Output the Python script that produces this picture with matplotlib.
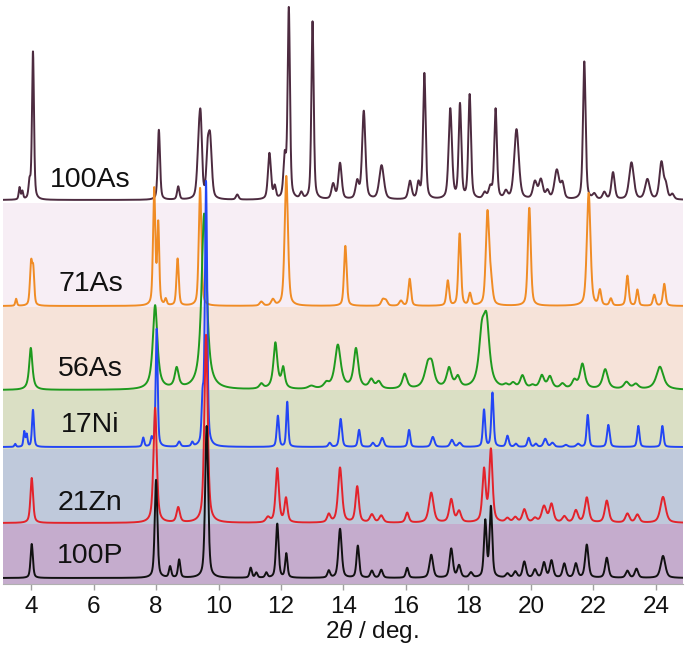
import numpy as np
import matplotlib
matplotlib.use("Agg")
import matplotlib.pyplot as plt

plt.rcParams['font.family'] = ['Liberation Sans', 'DejaVu Sans']
plt.rcParams['mathtext.fontset'] = 'custom'
plt.rcParams['mathtext.rm'] = 'Liberation Sans'
plt.rcParams['mathtext.it'] = 'Liberation Sans:italic'

# ---------------- data (peak lists) ----------------
labels = ["100As", "71As", "56As", "17Ni", "21Zn", "100P"]
line_colors = ["#4d2b40", "#f08c25", "#1e9a1e", "#2346f5", "#e3232b", "#111111"]
band_colors = ["#ffffff", "#f7eef5", "#f6e3d9", "#dadfc4", "#bfc9db", "#c5accd"]

# vertical offsets of each pattern (arbitrary units)
offsets = [384, 278, 194, 137, 61, 6]
# band limits (same units)
band_edges = [584, 381, 277, 194, 135, 60, 0]

as100_pos = [3.63, 3.72, 3.95, 4.06, 8.09, 8.71, 9.37, 9.43, 9.65, 9.73, 10.6, 11.63, 11.8,
             12.12, 12.25, 12.65, 13.01, 13.67, 13.89, 14.44, 14.65, 15.22, 16.13, 16.4, 16.59,
             17.42, 17.73, 18.04, 18.52, 18.7, 18.87, 19.2, 19.54, 20.13, 20.32, 20.53, 20.83,
             21.01, 21.71, 22.03, 22.35, 22.63, 23.22, 23.73, 24.18, 24.32, 24.53]
as100_h = [12, 8, 16, 148, 70, 13, 50, 60, 38, 58, 5, 46, 12, 40, 190, 6, 178, 15, 36, 17, 88,
           34, 18, 15, 126, 90, 94, 104, 6, 11, 90, 7, 70, 17, 19, 8, 29, 15, 138, 5, 7, 27, 37,
           20, 37, 13, 5]
as100_w = [0.05, 0.05, 0.06, 0.06, 0.07, 0.07, 0.1, 0.08, 0.08, 0.1, 0.08, 0.09, 0.07, 0.08,
           0.07, 0.08, 0.07, 0.1, 0.1, 0.1, 0.1, 0.14, 0.1, 0.08, 0.08, 0.1, 0.08, 0.08, 0.1,
           0.1, 0.08, 0.1, 0.14, 0.12, 0.12, 0.1, 0.14, 0.1, 0.08, 0.1, 0.1, 0.1, 0.14, 0.14,
           0.12, 0.1, 0.1]

as71_pos = [3.52, 4.0, 4.07, 7.94, 8.07, 8.31, 8.69, 9.41, 11.37, 11.74, 12.17, 14.06, 15.26,
            15.36, 15.84, 16.12, 17.34, 17.72, 18.05, 18.61, 18.72, 19.95, 21.85, 22.21, 22.56,
            23.09, 23.41, 23.95, 24.27]
as71_h = [7, 42, 32, 116, 80, 6, 47, 118, 4, 6, 130, 60, 6, 5, 5, 27, 25, 72, 12, 92, 21, 98,
          113, 15, 7, 30, 16, 11, 22]
as71_w = [0.05, 0.07, 0.06, 0.07, 0.06, 0.06, 0.07, 0.08, 0.1, 0.1, 0.1, 0.08, 0.1, 0.1, 0.1,
          0.08, 0.08, 0.08, 0.08, 0.1, 0.1, 0.09, 0.11, 0.08, 0.08, 0.08, 0.07, 0.08, 0.08]

as56_pos = [3.99, 7.97, 8.66, 9.54, 11.37, 11.82, 12.07, 12.97, 13.45, 13.82, 14.4, 14.89,
            15.13, 15.96, 16.7, 16.83, 17.38, 17.66, 18.43, 18.58, 19.2, 19.43, 19.73, 20.05,
            20.35, 20.61, 21.01, 21.39, 21.65, 22.38, 23.06, 23.36, 24.13]
as56_h = [42, 84, 20, 176, 5, 46, 20, 3, 5, 44, 40, 9, 7, 15, 22, 18, 20, 11, 48, 60, 3, 5, 13,
          3, 13, 12, 5, 8, 25, 20, 7, 5, 23]
as56_w = [0.1, 0.14, 0.12, 0.16, 0.12, 0.12, 0.1, 0.2, 0.15, 0.18, 0.14, 0.14, 0.14, 0.14, 0.2,
          0.16, 0.15, 0.14, 0.18, 0.18, 0.14, 0.14, 0.14, 0.14, 0.14, 0.14, 0.14, 0.14, 0.15,
          0.16, 0.16, 0.16, 0.22]

ni17_pos = [3.49, 3.78, 3.86, 4.06, 7.59, 7.86, 8.02, 8.74, 9.16, 9.49, 9.6, 11.9, 12.2, 13.56,
            13.91, 14.5, 14.94, 15.24, 16.1, 16.86, 17.47, 17.72, 18.5, 18.77, 19.25, 19.52,
            19.93, 20.16, 20.46, 20.69, 21.12, 21.51, 21.82, 22.48, 23.44, 24.21]
ni17_h = [3, 15, 12, 37, 9, 8, 118, 5, 4, 42, 264, 31, 45, 4, 28, 17, 4, 9, 17, 10, 7, 4, 37,
          54, 11, 3, 9, 3, 8, 4, 2, 3, 32, 22, 21, 21]
ni17_w = [0.05, 0.05, 0.05, 0.06, 0.06, 0.06, 0.06, 0.08, 0.06, 0.06, 0.07, 0.07, 0.06, 0.08,
          0.08, 0.07, 0.08, 0.1, 0.07, 0.1, 0.1, 0.1, 0.07, 0.07, 0.08, 0.08, 0.08, 0.08, 0.1,
          0.1, 0.1, 0.1, 0.07, 0.08, 0.07, 0.07]

zn21_pos = [4.02, 7.97, 8.71, 9.6, 11.58, 11.88, 12.16, 13.53, 13.89, 14.44, 14.91, 15.21,
            16.04, 16.81, 17.45, 17.7, 18.5, 18.72, 19.25, 19.5, 19.79, 20.13, 20.42, 20.66,
            21.07, 21.44, 21.79, 22.43, 23.09, 23.41, 24.23]
zn21_h = [45, 115, 15, 188, 5, 54, 24, 8, 55, 36, 8, 7, 10, 30, 23, 11, 52, 72, 4, 5, 13, 4, 16,
          18, 6, 12, 25, 22, 9, 8, 26]
zn21_w = [0.08, 0.1, 0.1, 0.1, 0.12, 0.1, 0.09, 0.1, 0.12, 0.1, 0.12, 0.12, 0.1, 0.14, 0.12,
          0.12, 0.1, 0.1, 0.12, 0.12, 0.12, 0.12, 0.14, 0.12, 0.12, 0.12, 0.12, 0.12, 0.12,
          0.12, 0.16]

p100_pos = [4.02, 8.0, 8.45, 8.74, 9.62, 11.03, 11.21, 11.53, 11.88, 12.17, 13.53, 13.89, 14.46,
            14.91, 15.21, 16.04, 16.81, 17.45, 17.7, 18.08, 18.54, 18.72, 19.25, 19.5, 19.79,
            20.13, 20.42, 20.66, 21.07, 21.44, 21.79, 22.43, 23.09, 23.38, 24.23]
p100_h = [34, 98, 11, 18, 152, 10, 5, 5, 54, 24, 7, 49, 32, 7, 8, 10, 23, 29, 12, 5, 56, 70, 4,
          6, 16, 8, 15, 17, 14, 14, 33, 20, 7, 9, 22]
p100_w = [0.07, 0.08, 0.07, 0.07, 0.09, 0.07, 0.07, 0.07, 0.08, 0.07, 0.08, 0.1, 0.08, 0.09,
          0.09, 0.08, 0.11, 0.1, 0.1, 0.1, 0.08, 0.08, 0.1, 0.1, 0.1, 0.1, 0.1, 0.1, 0.1, 0.1,
          0.1, 0.1, 0.1, 0.1, 0.14]

peak_pos = [as100_pos, as71_pos, as56_pos, ni17_pos, zn21_pos, p100_pos]
peak_h = [as100_h, as71_h, as56_h, ni17_h, zn21_h, p100_h]
peak_w = [as100_w, as71_w, as56_w, ni17_w, zn21_w, p100_w]
lorentz_frac = [0.45, 0.45, 0.85, 0.45, 0.6, 0.5]

x_ticks = [4, 6, 8, 10, 12, 14, 16, 18, 20, 22, 24]
x_min, x_max = 3.1, 24.87

# ---------------- figure ----------------
W, H = 686, 654
fig = plt.figure(figsize=(W / 100, H / 100), dpi=100)
ax = fig.add_axes([3 / W, (H - 584) / H, 680 / W, 584 / H])
ax.set_xlim(x_min, x_max)
ax.set_ylim(0, 584)

for i, c in enumerate(band_colors):
    ax.axhspan(band_edges[i + 1], band_edges[i], color=c, lw=0, zorder=0)

x = np.linspace(x_min, x_max, 6000)
width_scale = 1.25  # rendering breadth of the peak profiles


def profile(pos, h, w, eta):
    y = np.zeros_like(x)
    for p, a, fw in zip(pos, h, w):
        fw = fw * width_scale
        g = np.exp(-4 * np.log(2) * ((x - p) / fw) ** 2)
        lor = 1.0 / (1.0 + 4 * ((x - p) / fw) ** 2)
        y += a * (eta * lor + (1 - eta) * g)
    return y


for i in range(len(labels)):
    y = profile(peak_pos[i], peak_h[i], peak_w[i], lorentz_frac[i]) + offsets[i]
    ax.plot(x, y, color=line_colors[i], lw=1.4, zorder=2 + i)

label_y = [404, 300, 215, 159, 81, 28]
for lab, ly in zip(labels, label_y):
    ax.text(5.9, ly, lab, fontsize=20.5, ha='center', va='center', color='#111111', zorder=20)

for s in ['top', 'left', 'right']:
    ax.spines[s].set_visible(False)
ax.spines['bottom'].set_color('#b0b0b0')
ax.spines['bottom'].set_linewidth(0.8)
ax.set_yticks([])
ax.set_xticks(x_ticks)
ax.tick_params(axis='x', direction='out', length=4, width=1, color='#a0a0a0',
               labelsize=17.5, pad=4.5, labelcolor='#111111')
ax.set_xlabel(r'2$\it{\theta}$ / deg.', fontsize=17.5, color='#111111')
ax.xaxis.set_label_coords((372 - 3) / 680, -0.058)

fig.savefig("out.png", dpi=100, facecolor='white')
